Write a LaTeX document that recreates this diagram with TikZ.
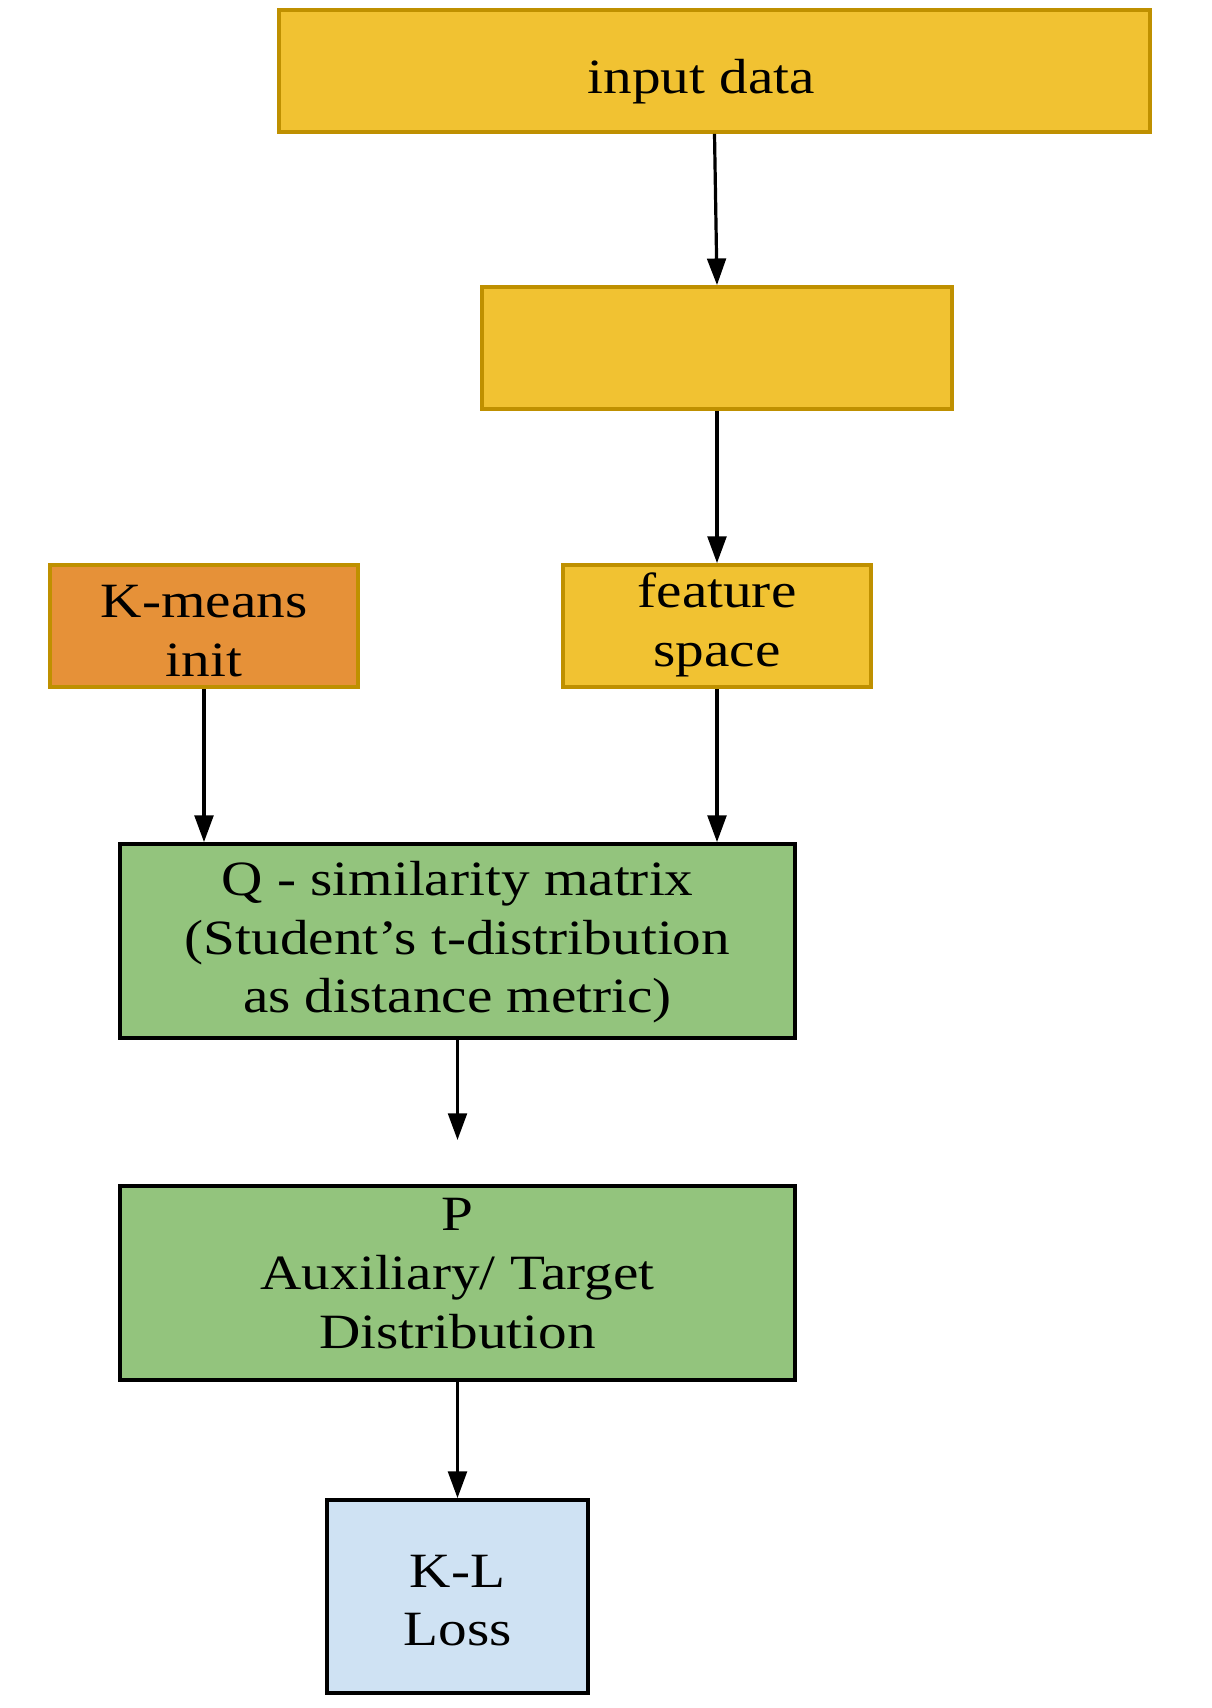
\documentclass[tikz,border=0pt]{standalone}
\usepackage{fontspec}
\setmainfont{Liberation Serif}[FakeStretch=1.16]
\usetikzlibrary{arrows.meta,calc}
\definecolor{ylfill}{HTML}{F1C232}
\definecolor{ylline}{HTML}{BF9000}
\definecolor{orfill}{HTML}{E69138}
\definecolor{grfill}{HTML}{93C47D}
\definecolor{blfill}{HTML}{CFE2F3}
\tikzset{
  every label/.style={align=center, inner sep=0pt, font=\fontsize{37}{44}\selectfont},
  box/.style={rectangle, line width=2.8pt, inner sep=0pt},
  ybox/.style={box, draw=ylline, fill=ylfill},
  obox/.style={box, draw=ylline, fill=orfill},
  gbox/.style={box, draw=black, fill=grfill},
  bbox/.style={box, draw=black, fill=blfill},
  conn/.style={line width=2.4pt, -{Triangle[length=20pt,width=14pt]}}
}
\begin{document}
\begin{tikzpicture}[x=0.75pt,y=-0.75pt]
\useasboundingbox (0,0) rectangle (1211,1708);
\node[ybox, minimum width=653.25pt, minimum height=91.5pt,
  label={[name=intxt, xshift=-10pt, yshift=-8pt]center:input data}] (in) at (714.5,71) {};
\node[ybox, minimum width=352.5pt, minimum height=91.5pt] (enc) at (717,348) {};
\node[obox, minimum width=231pt, minimum height=91.5pt,
  label={[name=kmtxt, yshift=-4pt]center:K-means\\init}] (km) at (204,626) {};
\node[ybox, minimum width=231pt, minimum height=91.5pt,
  label={[name=fstxt, yshift=1pt]center:feature\\space}] (fs) at (717,626) {};
\node[gbox, minimum width=506.25pt, minimum height=145.5pt,
  label={[name=qtxt, yshift=-1pt]center:Q - similarity matrix\\(Student’s t-distribution\\as distance metric)}] (q) at (457.5,941) {};
\node[gbox, minimum width=506.25pt, minimum height=145.5pt,
  label={[name=ptxt, yshift=7pt]center:P\\Auxiliary/ Target\\Distribution}] (p) at (457.5,1283) {};
\node[bbox, minimum width=195.75pt, minimum height=144.75pt,
  label={[name=kltxt, yshift=-3pt]center:K-L\\Loss}] (kl) at (457.5,1596.5) {};
\coordinate (qend) at (457.5,1140);
\draw[conn] (in.south) -- (enc.north);
\draw[conn] (enc.south) -- (fs.north);
\draw[conn] (km.south) -- (km.south |- q.north);
\draw[conn] (fs.south) -- (fs.south |- q.north);
\draw[conn] (q.south) -- (qend);
\draw[conn] (p.south) -- (kl.north);
\end{tikzpicture}
\end{document}
